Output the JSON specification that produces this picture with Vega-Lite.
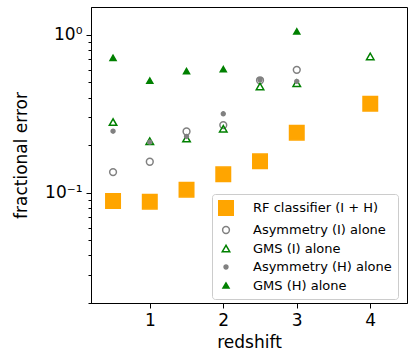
{
  "$schema": "https://vega.github.io/schema/vega-lite/v6.json",
  "width": 316,
  "height": 296,
  "autosize": {"type": "none"},
  "padding": {"left": 91, "top": 7, "right": 8, "bottom": 53},
  "config": {
    "view": {"stroke": "black", "strokeWidth": 1},
    "font": "DejaVu Sans",
    "axis": {"grid": false, "domainColor": "black", "tickColor": "black", "labelColor": "black", "titleColor": "black", "labelFont": "DejaVu Sans", "titleFont": "DejaVu Sans", "labelFontSize": 17, "titleFontSize": 17, "titleFontWeight": "normal"}
  },
  "data": {"values": [
    {"z": 0.5, "err": 0.0886, "series": "RF classifier (I + H)"},
    {"z": 1.0, "err": 0.0877, "series": "RF classifier (I + H)"},
    {"z": 1.5, "err": 0.1045, "series": "RF classifier (I + H)"},
    {"z": 2.0, "err": 0.1306, "series": "RF classifier (I + H)"},
    {"z": 2.5, "err": 0.158, "series": "RF classifier (I + H)"},
    {"z": 3.0, "err": 0.240, "series": "RF classifier (I + H)"},
    {"z": 4.0, "err": 0.366, "series": "RF classifier (I + H)"},
    {"z": 0.5, "err": 0.135, "series": "Asymmetry (I) alone"},
    {"z": 1.0, "err": 0.157, "series": "Asymmetry (I) alone"},
    {"z": 1.5, "err": 0.244, "series": "Asymmetry (I) alone"},
    {"z": 2.0, "err": 0.268, "series": "Asymmetry (I) alone"},
    {"z": 2.5, "err": 0.515, "series": "Asymmetry (I) alone"},
    {"z": 3.0, "err": 0.600, "series": "Asymmetry (I) alone"},
    {"z": 0.5, "err": 0.280, "series": "GMS (I) alone"},
    {"z": 1.0, "err": 0.212, "series": "GMS (I) alone"},
    {"z": 1.5, "err": 0.220, "series": "GMS (I) alone"},
    {"z": 2.0, "err": 0.254, "series": "GMS (I) alone"},
    {"z": 2.5, "err": 0.471, "series": "GMS (I) alone"},
    {"z": 3.0, "err": 0.494, "series": "GMS (I) alone"},
    {"z": 4.0, "err": 0.729, "series": "GMS (I) alone"},
    {"z": 0.5, "err": 0.245, "series": "Asymmetry (H) alone"},
    {"z": 1.0, "err": 0.209, "series": "Asymmetry (H) alone"},
    {"z": 1.5, "err": 0.227, "series": "Asymmetry (H) alone"},
    {"z": 2.0, "err": 0.316, "series": "Asymmetry (H) alone"},
    {"z": 2.5, "err": 0.519, "series": "Asymmetry (H) alone"},
    {"z": 3.0, "err": 0.507, "series": "Asymmetry (H) alone"},
    {"z": 0.5, "err": 0.715, "series": "GMS (H) alone"},
    {"z": 1.0, "err": 0.512, "series": "GMS (H) alone"},
    {"z": 1.5, "err": 0.589, "series": "GMS (H) alone"},
    {"z": 2.0, "err": 0.606, "series": "GMS (H) alone"},
    {"z": 3.0, "err": 1.05, "series": "GMS (H) alone"}
  ]},
  "mark": {"type": "point", "strokeWidth": 1.5, "opacity": 1},
  "encoding": {
    "x": {"field": "z", "type": "quantitative", "scale": {"domain": [0.2, 4.5], "nice": false, "zero": false},
      "axis": {"values": [1, 2, 3, 4], "title": "redshift", "tickSize": 5, "labelPadding": 4, "titlePadding": 6, "domain": true}},
    "y": {"field": "err", "type": "quantitative", "scale": {"type": "log", "domain": [0.02, 1.5], "nice": false},
      "axis": {"values": [0.02, 0.03, 0.04, 0.05, 0.06, 0.07, 0.08, 0.09, 0.1, 0.2, 0.3, 0.4, 0.5, 0.6, 0.7, 0.8, 0.9, 1],
        "labelExpr": "datum.value == 1 ? '10⁰' : (datum.value == 0.1 ? '10⁻¹' : '')",
        "tickSize": {"condition": {"test": "datum.value == 1 || datum.value == 0.1", "value": 5}, "value": 3},
        "title": "fractional error", "labelPadding": 4, "titlePadding": 14}},
    "shape": {"field": "series", "type": "nominal", "scale": {"domain": ["RF classifier (I + H)", "Asymmetry (I) alone", "GMS (I) alone", "Asymmetry (H) alone", "GMS (H) alone"], "range": ["square", "circle", "triangle-up", "circle", "triangle-up"]}},
    "fill": {"field": "series", "type": "nominal", "scale": {"domain": ["RF classifier (I + H)", "Asymmetry (I) alone", "GMS (I) alone", "Asymmetry (H) alone", "GMS (H) alone"], "range": ["#FFA500", "transparent", "transparent", "#808080", "#008000"]}},
    "stroke": {"field": "series", "type": "nominal", "scale": {"domain": ["RF classifier (I + H)", "Asymmetry (I) alone", "GMS (I) alone", "Asymmetry (H) alone", "GMS (H) alone"], "range": ["#FFA500", "#808080", "#008000", "#808080", "#008000"]}},
    "size": {"field": "series", "type": "nominal", "scale": {"type": "ordinal", "domain": ["RF classifier (I + H)", "Asymmetry (I) alone", "GMS (I) alone", "Asymmetry (H) alone", "GMS (H) alone"], "range": [210, 46, 56, 15, 36]},
      "legend": {"title": null, "orient": "none", "legendX": 121, "legendY": 187, "labelFontSize": 13, "labelFont": "DejaVu Sans", "labelColor": "black", "padding": 6, "rowPadding": 4.5, "labelOffset": 19, "strokeColor": "#cccccc", "fillColor": "white", "cornerRadius": 3, "symbolStrokeWidth": 1.5}}
  }
}
